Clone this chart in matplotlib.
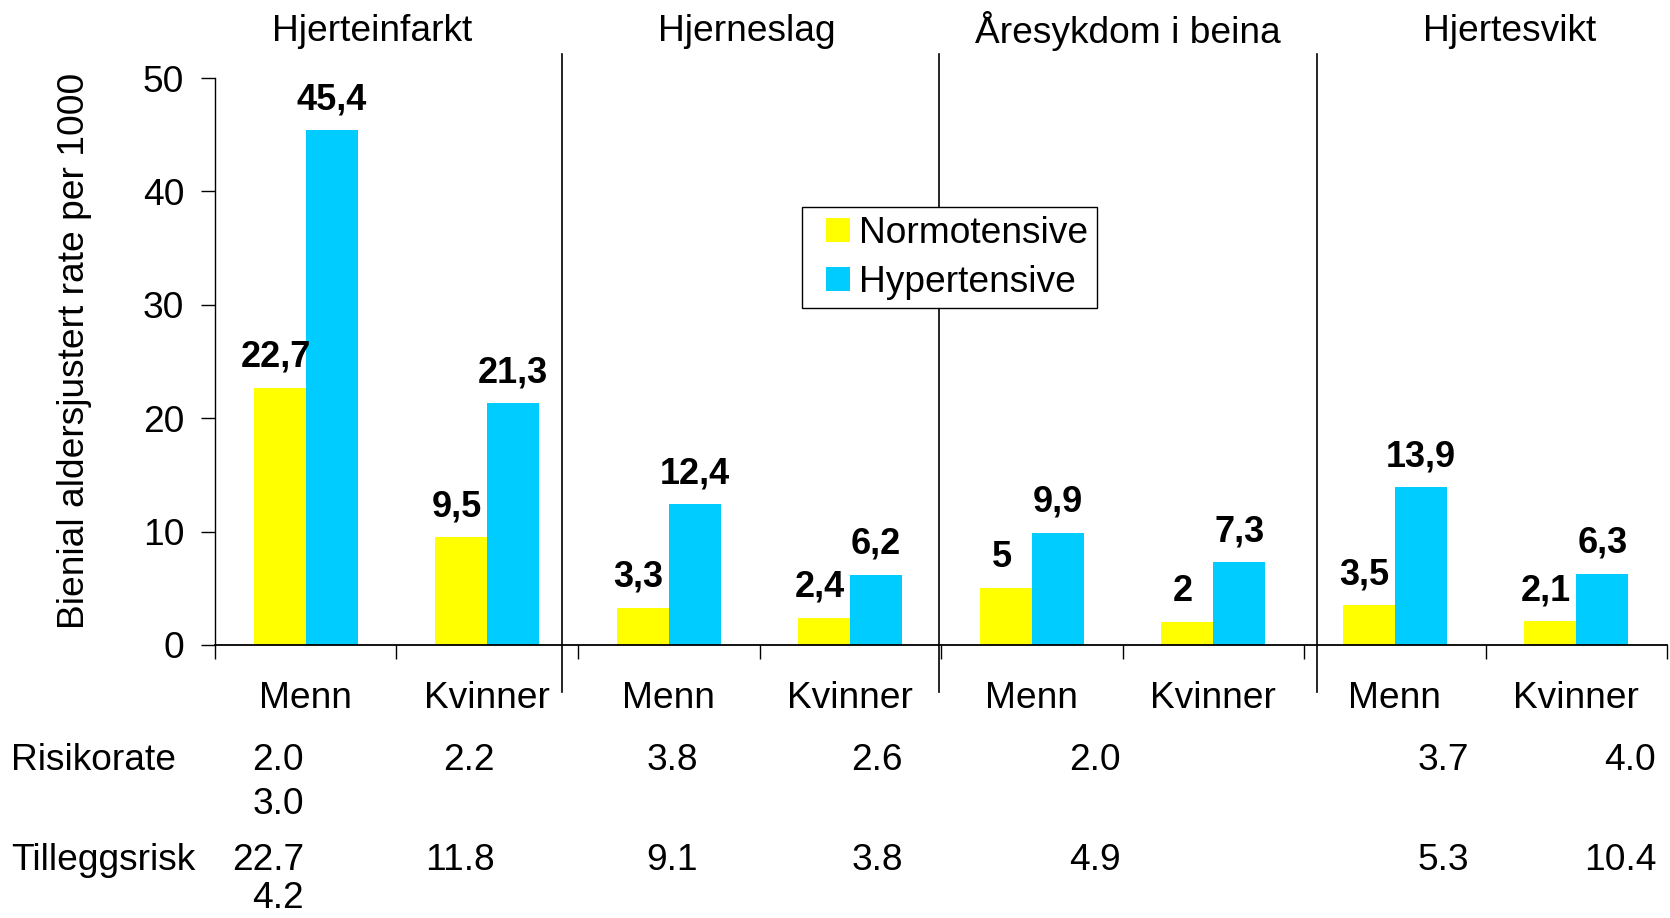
import numpy as np
import matplotlib.pyplot as plt
from matplotlib.lines import Line2D
from matplotlib.transforms import blended_transform_factory

plt.rcParams['font.family'] = ['Liberation Sans', 'DejaVu Sans']

# data
groups = ['Hjerteinfarkt', 'Hjerneslag', 'Åresykdom i beina', 'Hjertesvikt']
sexes = ['Menn', 'Kvinner'] * 4
normo = [22.7, 9.5, 3.3, 2.4, 5, 2, 3.5, 2.1]
hyper = [45.4, 21.3, 12.4, 6.2, 9.9, 7.3, 13.9, 6.3]
normo_lbl = ['22,7', '9,5', '3,3', '2,4', '5', '2', '3,5', '2,1']
hyper_lbl = ['45,4', '21,3', '12,4', '6,2', '9,9', '7,3', '13,9', '6,3']
risikorate = ['2.0', '2.2', '3.8', '2.6', '2.0', '3.7', '4.0']
risikorate_extra = '3.0'
tillegg = ['22.7', '11.8', '9.1', '3.8', '4.9', '5.3', '10.4']
tillegg_extra = '4.2'

yellow = '#FFFF00'
cyan = '#00CCFF'
fs = 26.7
fsb = 26

fig = plt.figure(figsize=(16.7, 9.18), dpi=100)
ax = fig.add_axes([0.1287, 0.2974, 0.9983 - 0.1287, 0.915 - 0.2974])

x = np.arange(len(sexes))
w = 0.286
b1 = ax.bar(x - w / 2, normo, w, color=yellow)
b2 = ax.bar(x + w / 2, hyper, w, color=cyan)

for rect, t in zip(b1, normo_lbl):
    ax.annotate(t, (rect.get_x() + rect.get_width() / 2, rect.get_height()),
                xytext=(-3, 15), textcoords='offset points', ha='center',
                va='baseline', fontsize=fsb, fontweight='bold')
for rect, t in zip(b2, hyper_lbl):
    ax.annotate(t, (rect.get_x() + rect.get_width() / 2, rect.get_height()),
                xytext=(0, 15), textcoords='offset points', ha='center',
                va='baseline', fontsize=fsb, fontweight='bold')

ax.set_xlim(-0.5, 7.5)
ax.set_ylim(0, 50)
ax.set_yticks([0, 10, 20, 30, 40, 50])
ax.tick_params(axis='y', labelsize=fs, length=10, width=1, pad=12)
ax.set_xticks(np.arange(-0.5, 8, 1))
ax.set_xticklabels([])
ax.tick_params(axis='x', which='major', length=10, width=1)
ax.set_xticks(x, minor=True)
ax.set_xticklabels(sexes, minor=True)
ax.tick_params(axis='x', which='minor', length=0, labelsize=fs, pad=26)
for s in ['top', 'right']:
    ax.spines[s].set_visible(False)
ax.spines['left'].set_linewidth(1)
ax.spines['bottom'].set_linewidth(1.3)

ax.set_ylabel('Bienial aldersjustert rate per 1000', fontsize=fs)
ax.yaxis.set_label_coords(-0.0844, 0.519)

# group separators
for sx in [1.41, 3.49, 5.57]:
    ax.axvline(sx, ymin=-0.083, ymax=1.043, color='black', lw=1.2, clip_on=False, zorder=1)

tr = blended_transform_factory(ax.transData, fig.transFigure)
for gx, g in zip([0.365, 2.43, 4.53, 6.63], groups):
    ax.text(gx, 0.966, g, transform=tr, ha='center', va='center', fontsize=fs)

handles = [Line2D([], [], ls='none', marker='s', markersize=16.9, color=c, markeredgewidth=0)
           for c in (yellow, cyan)]
leg = fig.legend(handles, ['Normotensive', 'Hypertensive'], loc='upper left',
                 bbox_to_anchor=(0.480, 0.774), fontsize=fs,
                 frameon=True, fancybox=False, edgecolor='black', framealpha=1,
                 handlelength=1.5, handletextpad=-0.16,
                 borderpad=0.22, labelspacing=0.386, borderaxespad=0)
leg.get_frame().set_linewidth(1)
leg.set_zorder(5)

# bottom rows
fig.text(11 / 1670, 1 - 761 / 918, 'Risikorate', fontsize=fs, va='center', ha='left')
fig.text(11 / 1670, 1 - 861 / 918, 'Tilleggsrisk', fontsize=fs, va='center', ha='left')
row_x = [-0.01, 1.04, 2.16, 3.29, 4.49, 6.41, 7.44]
for rx, r, t in zip(row_x, risikorate, tillegg):
    ax.text(rx, 1 - 761 / 918, r, transform=tr, ha='right', va='center', fontsize=fs)
    ax.text(rx, 1 - 861 / 918, t, transform=tr, ha='right', va='center', fontsize=fs)
ax.text(row_x[0], 1 - 805 / 918, risikorate_extra, transform=tr, ha='right', va='center', fontsize=fs)
ax.text(row_x[0], 1 - 899 / 918, tillegg_extra, transform=tr, ha='right', va='center', fontsize=fs)

fig.savefig('out.png', dpi=100)
